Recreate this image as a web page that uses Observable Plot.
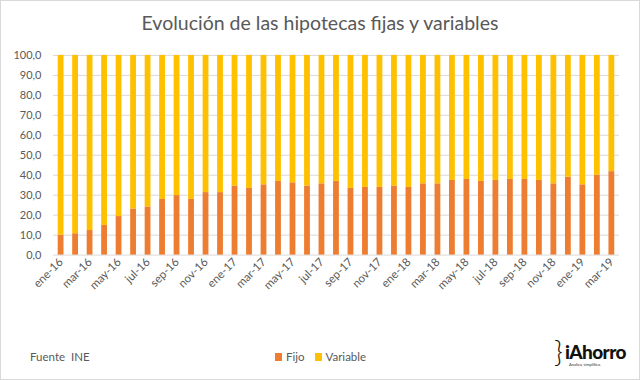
<!DOCTYPE html>
<html>
<head>
<meta charset="utf-8">
<script src="https://cdn.jsdelivr.net/npm/d3@7"></script>
<script src="https://cdn.jsdelivr.net/npm/@observablehq/plot@0.6"></script>
<style>
  html, body { margin: 0; padding: 0; background: #fff; }
  #wrap { position: relative; width: 638px; height: 378px; border: 1px solid #d9d9d9; background: #fff; font-family: Lato, "Open Sans", sans-serif; color: #595959; overflow: hidden; }
  #title { position: absolute; top: 10px; left: 0; width: 638px; text-align: center; font-size: 19.5px; color: #595959; }
  #chart { position: absolute; top: -1px; left: -1px; }
  #fuente { position: absolute; left: 29px; top: 349px; font-size: 11.5px; }
  #legend { position: absolute; left: 274px; top: 349px; font-size: 11.5px; display: flex; align-items: center; }
  #legend span.sw { display: inline-block; width: 7px; height: 8px; margin-right: 4px; }
  #logo { position: absolute; left: 553px; top: 334px; width: 80px; height: 40px; }
  #logo .br { position: absolute; left: 0; top: 0; font-size: 30px; font-weight: 300; color: #111; line-height: 30px; }
  #logo .name { position: absolute; left: 11px; top: 5px; font-size: 19px; font-weight: 900; color: #111; letter-spacing: -0.6px; }
  #logo .tag { position: absolute; left: 15px; top: 27px; font-size: 4px; color: #333; }
</style>
</head>
<body>
<div id="wrap">
  <div id="chart"></div>
  <div id="title">Evolución de las hipotecas fijas y variables</div>
  <div id="fuente">Fuente&nbsp; INE</div>
  <div id="legend"></div>
  <div id="logo"><span class="br">}</span><span class="name">iAhorro</span><span class="tag">Analiza, simplifica.</span></div>
</div>
<script>
const months = ["ene-16","feb-16","mar-16","abr-16","may-16","jun-16","jul-16","ago-16","sep-16","oct-16","nov-16","dic-16",
                "ene-17","feb-17","mar-17","abr-17","may-17","jun-17","jul-17","ago-17","sep-17","oct-17","nov-17","dic-17",
                "ene-18","feb-18","mar-18","abr-18","may-18","jun-18","jul-18","ago-18","sep-18","oct-18","nov-18","dic-18",
                "ene-19","feb-19","mar-19"];
const fijo = [10.0,10.7,12.3,14.9,19.3,23.1,24.1,27.9,29.8,27.9,31.3,31.3,
              34.6,33.4,35.2,36.9,36.2,34.6,35.7,36.9,33.4,33.9,33.9,34.6,
              33.9,35.7,35.7,37.4,37.9,36.9,37.4,37.9,37.9,37.4,35.7,39.0,
              35.2,40.0,41.8];
const variable = [90.0,89.3,87.7,85.1,80.7,76.9,75.9,72.1,70.2,72.1,68.7,68.7,
                  65.4,66.6,64.8,63.1,63.8,65.4,64.3,63.1,66.6,66.1,66.1,65.4,
                  66.1,64.3,64.3,62.6,62.1,63.1,62.6,62.1,62.1,62.6,64.3,61.0,
                  64.8,60.0,58.2];
const series = ["Fijo", "Variable"];
const colors = ["#ED7D31", "#FFC000"];
const yTicks = [0,10,20,30,40,50,60,70,80,90,100];
const xTickLabels = months.filter((_, i) => i % 2 === 0);

const data = months.flatMap((m, i) => [
  {month: m, tipo: "Fijo", value: fijo[i]},
  {month: m, tipo: "Variable", value: variable[i]}
]);

const chart = Plot.plot({
  width: 640,
  height: 380,
  marginTop: 55,
  marginBottom: 125,
  marginLeft: 53,
  marginRight: 20,
  style: {fontFamily: "Lato, 'Open Sans', sans-serif", fontSize: "11px", color: "#595959", background: "transparent", overflow: "visible"},
  x: {domain: months, paddingInner: 0.6, paddingOuter: 0.33, round: false, label: null},
  y: {domain: [0, 100], label: null},
  color: {domain: series, range: colors},
  marks: [
    Plot.gridY(yTicks, {stroke: "#d9d9d9", strokeOpacity: 1, strokeWidth: 1}),
    Plot.barY(data, {x: "month", y: "value", fill: "tipo", order: series}),
    Plot.axisY(yTicks, {tickSize: 0, tickPadding: 12, tickFormat: d => d.toFixed(1).replace(".", ","), fill: "#595959", fontSize: 11}),
    Plot.axisX(xTickLabels, {tickSize: 0, tickRotate: -45, tickPadding: 5, fill: "#595959", fontSize: 11.5})
  ]
});
document.getElementById("chart").appendChild(chart);

const legend = document.getElementById("legend");
series.forEach((s, i) => {
  const sw = document.createElement("span");
  sw.className = "sw";
  sw.style.background = colors[i];
  const lb = document.createElement("span");
  lb.textContent = s;
  lb.style.marginRight = i === 0 ? "10px" : "0";
  legend.appendChild(sw);
  legend.appendChild(lb);
});
</script>
</body>
</html>
